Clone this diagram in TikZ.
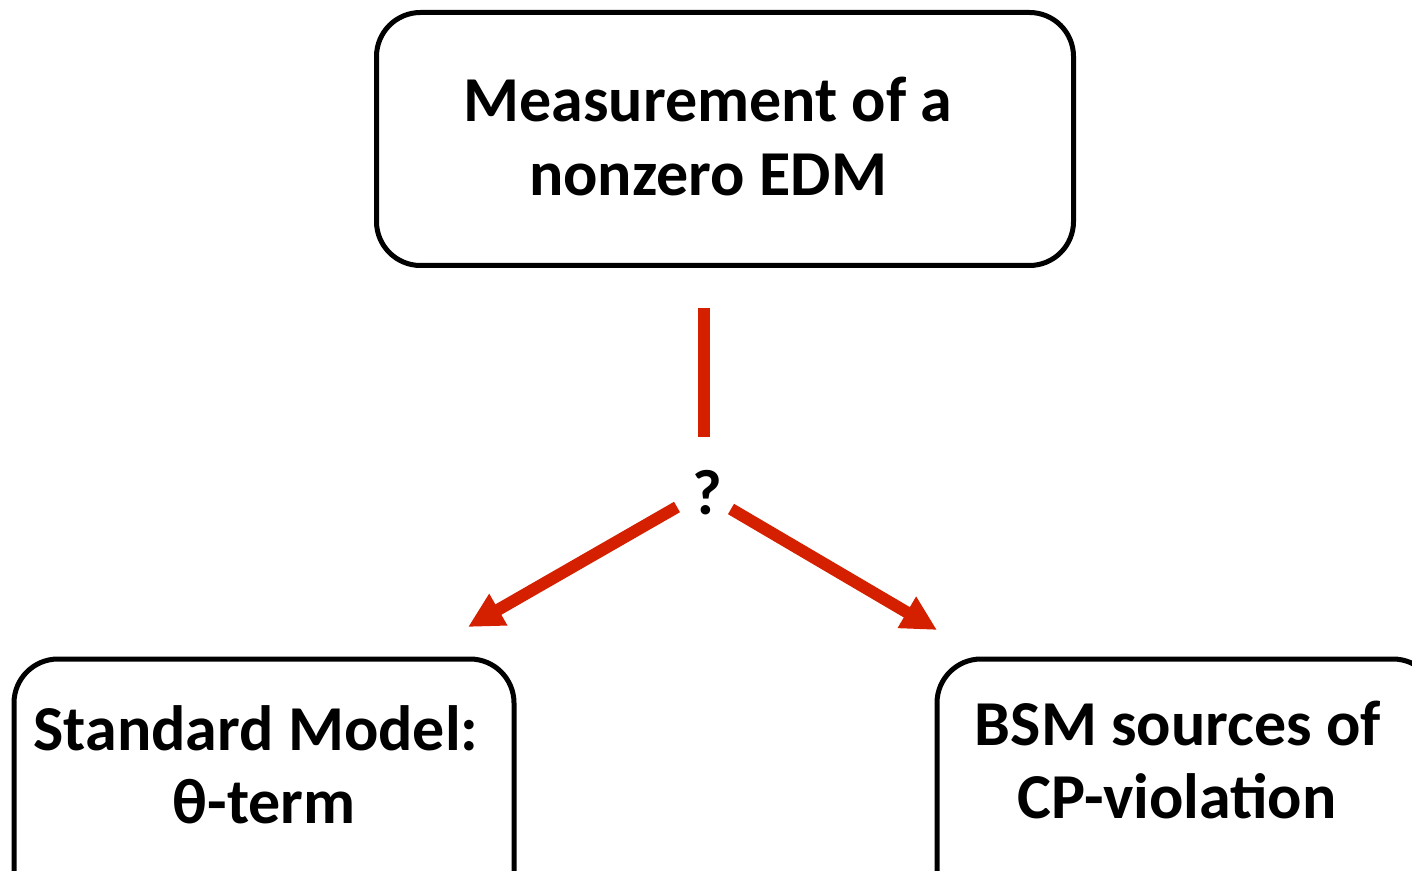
\documentclass[tikz,border=0pt]{standalone}
\usepackage{fontspec}
\setmainfont{Carlito}
\usetikzlibrary{arrows.meta}
\definecolor{edmred}{RGB}{213,32,0}
\begin{document}
\begin{tikzpicture}[x=0.5pt,y=-0.5pt,
  box/.style={draw=black,line width=2.5pt,rounded corners=22pt,fill=white,inner sep=0pt},
  txt/.style={font=\bfseries\fontsize{32}{36}\selectfont,anchor=base,inner sep=0pt},
  redline/.style={draw=edmred,line width=6pt},
  redarrow/.style={redline,-{Triangle[length=17.5pt,width=17pt]}}]
\clip (0,0) rectangle (1412,871);
\fill[white] (0,0) rectangle (1412,871);
% boxes
\node[box,minimum width=348.5pt,minimum height=126.5pt] (top) at (725,139) {};
\node[box,minimum width=250pt,minimum height=150pt] (sm) at (264,809) {};
\node[box,minimum width=250pt,minimum height=150pt] (bsm) at (1187,809) {};
% texts
\node[txt] (t1) at (708,122) {Measurement of a};
\node[txt] (t2) at (708,196) {nonzero EDM};
\node[txt] (s1) at (256,750) {Standard Model:};
\node[txt] (s2) at (264,823) {θ-term};
\node[txt] (b1) at (1178,745) {BSM sources of};
\node[txt] (b2) at (1177,818) {CP-violation};
\node[txt] (q) at (707,514) {?};
% connectors
\coordinate (vtop) at (704,308);
\coordinate (vbot) at (704,437);
\coordinate (lstart) at (677,507);
\coordinate (ltip) at (468,627);
\coordinate (rstart) at (731,509);
\coordinate (rtip) at (937,630);
\draw[redline] (vtop) -- (vbot);
\draw[redarrow] (lstart) -- (ltip);
\draw[redarrow] (rstart) -- (rtip);
\end{tikzpicture}
\end{document}
